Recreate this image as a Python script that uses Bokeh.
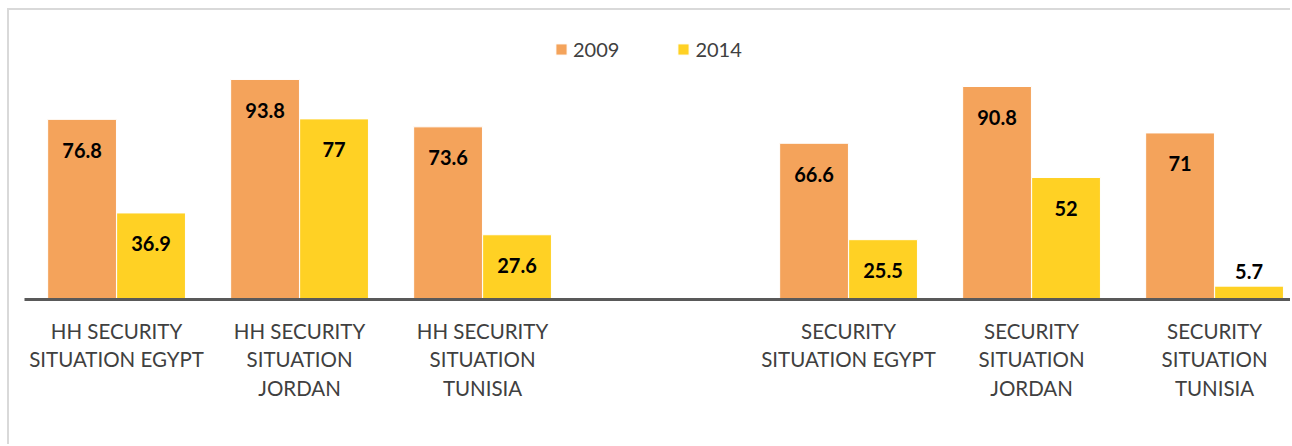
from bokeh.plotting import figure
from bokeh.models import Range1d, FixedTicker, ColumnDataSource, Legend, LegendItem
from bokeh.transform import dodge
from bokeh.embed import file_html
from bokeh.resources import INLINE
from bokeh.core.properties import value

# ---- data ----
categories = [
    "HH SECURITY\nSITUATION EGYPT",
    "HH SECURITY\nSITUATION\nJORDAN",
    "HH SECURITY\nSITUATION\nTUNISIA",
    "",
    "SECURITY\nSITUATION EGYPT",
    "SECURITY\nSITUATION\nJORDAN",
    "SECURITY\nSITUATION\nTUNISIA",
]
series = ["2009", "2014"]
values_2009 = [76.8, 93.8, 73.6, None, 66.6, 90.8, 71.0]
values_2014 = [36.9, 77.0, 27.6, None, 25.5, 52.0, 5.7]

# ---- style ----
colors = ["#F4A35B", "#FFD124"]
FONT = "Lato"
W, H = 1283, 436
BORDER_L, BORDER_B, BORDER_T = 15, 147, 0
Y_END = 123.2
frame_h = H - BORDER_B - BORDER_T
ppu = frame_h / Y_END

idx = [i for i, c in enumerate(categories) if c]


def fmt(v):
    return ("%g" % v)


def off(v):
    return 31 if v * ppu > 45 else -15


src = ColumnDataSource(dict(
    x=idx,
    v09=[values_2009[i] for i in idx],
    v14=[values_2014[i] for i in idx],
    l09=[fmt(values_2009[i]) for i in idx],
    l14=[fmt(values_2014[i]) for i in idx],
    o09=[off(values_2009[i]) for i in idx],
    o14=[off(values_2014[i]) for i in idx],
))

p = figure(
    width=W, height=H,
    x_range=Range1d(-0.503, 6.426), y_range=Range1d(0, Y_END),
    output_backend="svg", toolbar_location=None,
    min_border_left=BORDER_L, min_border_right=0,
    min_border_top=BORDER_T, min_border_bottom=BORDER_B,
    styles={"border-left": "2px solid #d9d9d9", "border-top": "2px solid #d9d9d9",
            "margin-left": "7px", "margin-top": "8px"},
)
p.outline_line_color = None
p.xgrid.visible = False
p.ygrid.visible = False
p.yaxis.visible = False
p.background_fill_color = "white"
p.border_fill_color = "white"

xa = p.xaxis[0]
xa.ticker = FixedTicker(ticks=idx)
xa.major_label_overrides = {i: categories[i] for i in idx}
xa.axis_line_color = "#595959"
xa.axis_line_width = 3
xa.major_tick_line_color = None
xa.minor_tick_line_color = None
xa.major_label_text_font = FONT
xa.major_label_text_font_size = "20.5px"
xa.major_label_text_color = "#404040"
xa.major_label_text_line_height = 1.2
xa.major_label_standoff = 13

OFF = 0.1885
BW = 0.376
r1 = p.vbar(x=dodge("x", -OFF, range=p.x_range), top="v09", width=BW, bottom=0,
            source=src, fill_color=colors[0], line_color="white", line_width=1)
r2 = p.vbar(x=dodge("x", OFF, range=p.x_range), top="v14", width=BW, bottom=0,
            source=src, fill_color=colors[1], line_color="white", line_width=1)

for col, lab, o, dx in (("v09", "l09", "o09", -OFF), ("v14", "l14", "o14", OFF)):
    p.text(x=dodge("x", dx, range=p.x_range), y=col, text=lab, y_offset=o, source=src,
           text_align="center", text_baseline="middle", text_font=value(FONT),
           text_font_style="bold", text_font_size="20px", text_color="black")

legend = Legend(
    items=[LegendItem(label=series[0], renderers=[r1]),
           LegendItem(label=series[1], renderers=[r2])],
    orientation="horizontal", location=(530, 238),
    glyph_width=14, glyph_height=14, label_standoff=5, spacing=57,
    label_text_font=FONT, label_text_font_size="20px", label_text_color="#404040",
    padding=0, margin=0, background_fill_alpha=0, border_line_color=None,
)
p.add_layout(legend)

open("out.html", "w").write(file_html(p, INLINE))
